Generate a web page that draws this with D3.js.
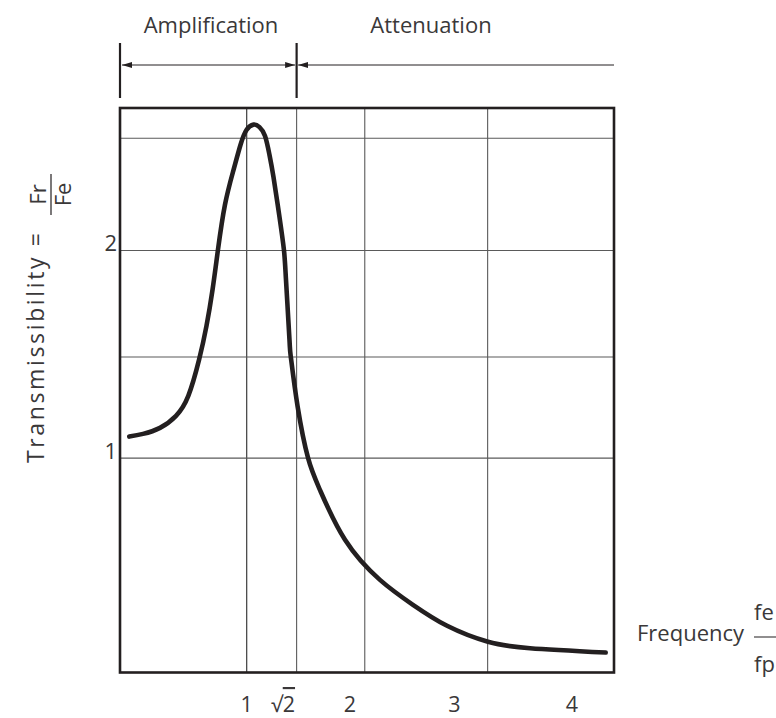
<!DOCTYPE html>
<html>
<head>
<meta charset="utf-8">
<script src="https://cdn.jsdelivr.net/npm/d3@7"></script>
<style>
  html, body { margin: 0; padding: 0; background: #fff; }
  svg { display: block; }
  text { font-family: "Open Sans", "Noto Sans", sans-serif; fill: #3a3839; font-weight: 400; }
</style>
</head>
<body>
<svg id="chart" width="776" height="718"></svg>
<script>
// ---- data ----
const curveX = [0.025, 0.139, 0.280, 0.413, 0.515, 0.604, 0.666, 0.716, 0.761, 0.819, 0.890, 0.948, 0.998, 1.056, 1.106, 1.152, 1.189, 1.222, 1.272, 1.309, 1.326, 1.355, 1.367, 1.423, 1.509, 1.608, 1.816, 2.106, 2.380, 2.663, 3.003, 3.352, 3.980];
const curveY = [1.104, 1.117, 1.146, 1.204, 1.300, 1.473, 1.637, 1.810, 2.002, 2.219, 2.387, 2.508, 2.580, 2.606, 2.594, 2.551, 2.460, 2.354, 2.161, 2.002, 1.858, 1.570, 1.483, 1.247, 1.001, 0.847, 0.607, 0.414, 0.294, 0.193, 0.116, 0.085, 0.064];
const xGridValues = [1, Math.SQRT2, 1.98, 3];
const yGridValues = [1, 1.487, 2, 2.54];
const xTickLabels = ["1", "√2", "2", "3", "4"];
const xTickLabelPos = [1, 1.301, 1.857, 2.725, 3.70];
const yTickLabels = ["1", "2"];
const yTickValues = [1, 2];
const regionLabels = ["Amplification", "Attenuation"];
const regionBounds = [-0.052, Math.SQRT2, 4.049];

// ---- layout ----
const svg = d3.select("#chart");
const ink = "#231f20";
const grid = "#5a5a5a";
const fs = 22;

const x = d3.scaleLinear().domain([-0.052, 4.049]).range([120, 614]);
const y = d3.scaleLinear().domain([-0.032, 2.686]).range([672.5, 108]);

// gridlines
svg.append("g").selectAll("line.v").data(xGridValues).join("line")
  .attr("x1", d => x(d)).attr("x2", d => x(d))
  .attr("y1", y.range()[0]).attr("y2", y.range()[1])
  .attr("stroke", (d, i) => i === 0 ? "#2a2a2a" : grid).attr("stroke-width", 1.1);
svg.append("g").selectAll("line.h").data(yGridValues).join("line")
  .attr("x1", x.range()[0]).attr("x2", x.range()[1])
  .attr("y1", d => y(d)).attr("y2", d => y(d))
  .attr("stroke", grid).attr("stroke-width", 1.1);

// frame
svg.append("rect")
  .attr("x", x.range()[0]).attr("y", y.range()[1])
  .attr("width", x.range()[1] - x.range()[0])
  .attr("height", y.range()[0] - y.range()[1])
  .attr("fill", "none").attr("stroke", ink).attr("stroke-width", 2.6);

// curve
const pts = curveX.map((d, i) => [d, curveY[i]]);
const line = d3.line().x(d => x(d[0])).y(d => y(d[1])).curve(d3.curveNatural);
svg.append("path").datum(pts)
  .attr("d", line)
  .attr("fill", "none").attr("stroke", ink)
  .attr("stroke-width", 4.6).attr("stroke-linecap", "round").attr("stroke-linejoin", "round");

// y tick labels
svg.append("g").selectAll("text").data(yTickValues).join("text")
  .attr("x", 117).attr("y", d => y(d) + 1)
  .attr("text-anchor", "end").attr("font-size", fs)
  .text((d, i) => yTickLabels[i]);

// x tick labels
const xt = svg.append("g").selectAll("text").data(xTickLabelPos).join("text")
  .attr("x", d => x(d)).attr("y", 712)
  .attr("text-anchor", "middle").attr("font-size", 21.5);
xt.each(function(d, i) {
  const t = d3.select(this);
  const lab = xTickLabels[i];
  if (lab.startsWith("√")) {
    t.append("tspan").text("√");
    t.append("tspan").style("text-decoration", "overline").text(lab.slice(1));
  } else {
    t.text(lab);
  }
});

// header: region labels, brackets, arrows
const defs = svg.append("defs");
defs.append("marker").attr("id", "ah")
  .attr("viewBox", "0 0 10 6").attr("refX", 10).attr("refY", 3)
  .attr("markerWidth", 10).attr("markerHeight", 6)
  .attr("markerUnits", "userSpaceOnUse").attr("orient", "auto-start-reverse")
  .append("path").attr("d", "M0,0 L10,3 L0,6 Z").attr("fill", ink);

const hy = 65;
svg.append("g").selectAll("line").data(regionBounds.slice(0, 2)).join("line")
  .attr("x1", d => x(d)).attr("x2", d => x(d))
  .attr("y1", 43).attr("y2", 98)
  .attr("stroke", ink).attr("stroke-width", 2.2);

svg.append("line")
  .attr("x1", x(regionBounds[0]) + 2).attr("x2", x(regionBounds[1]) - 1.5)
  .attr("y1", hy).attr("y2", hy)
  .attr("stroke", ink).attr("stroke-width", 1)
  .attr("marker-start", "url(#ah)").attr("marker-end", "url(#ah)");
svg.append("line")
  .attr("x1", x(regionBounds[1]) + 1.5).attr("x2", x(regionBounds[2]))
  .attr("y1", hy).attr("y2", hy)
  .attr("stroke", ink).attr("stroke-width", 1)
  .attr("marker-start", "url(#ah)");

svg.append("g").selectAll("text").data(regionLabels).join("text")
  .attr("x", (d, i) => i === 0 ? 211 : 431)
  .attr("y", 33)
  .attr("text-anchor", "middle").attr("font-size", fs)
  .text(d => d);

// y axis title
const yt = svg.append("g").attr("transform", "translate(44,463) rotate(-90)");
const L = 230;
yt.append("text").attr("x", 0).attr("y", 0).attr("font-size", 23)
  .attr("textLength", L).attr("lengthAdjust", "spacing").text("Transmissibility =");
const fx0 = L + 18, fw = 41;
yt.append("line").attr("x1", fx0).attr("x2", fx0 + fw).attr("y1", 7).attr("y2", 7)
  .attr("stroke", ink).attr("stroke-width", 1.2);
yt.append("text").attr("x", fx0 + fw / 2).attr("y", 2).attr("text-anchor", "middle").attr("font-size", fs).text("Fr");
yt.append("text").attr("x", fx0 + fw / 2).attr("y", 27).attr("text-anchor", "middle").attr("font-size", fs).text("Fe");

// x axis title
svg.append("text").attr("x", 637).attr("y", 641).attr("font-size", fs).text("Frequency");
svg.append("line").attr("x1", 754).attr("x2", 800).attr("y1", 637).attr("y2", 637)
  .attr("stroke", ink).attr("stroke-width", 1.2);
svg.append("text").attr("x", 754).attr("y", 620).attr("font-size", fs).text("fe");
svg.append("text").attr("x", 754).attr("y", 672).attr("font-size", fs).text("fp");
</script>
</body>
</html>
